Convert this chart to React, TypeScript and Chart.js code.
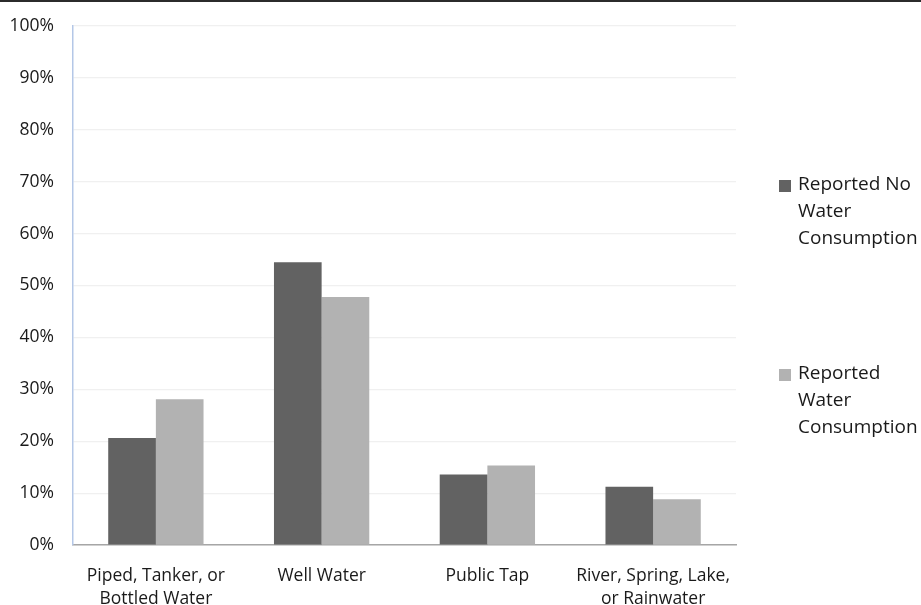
import React, { useEffect, useRef } from "react";
import { Chart, registerables } from "chart.js";

Chart.register(...registerables);

const categories: (string | string[])[] = [
  ["Piped, Tanker, or", "Bottled Water"],
  "Well Water",
  "Public Tap",
  ["River, Spring, Lake,", "or Rainwater"],
];
const noConsumption = [20.6, 54.5, 13.6, 11.2];
const consumption = [28.1, 47.8, 15.3, 8.8];
const seriesLabels = [
  ["Reported No", "Water", "Consumption"],
  ["Reported", "Water", "Consumption"],
];
const seriesColors = ["#626262", "#b2b2b2"];
const yTicks = [0, 10, 20, 30, 40, 50, 60, 70, 80, 90, 100];

const FONT = "'Open Sans', 'Noto Sans', sans-serif";

const legendPlugin = {
  id: "wrappedLegend",
  afterDraw(chart: any) {
    const ctx = chart.ctx;
    const area = chart.chartArea;
    const x0 = area.right + 43;
    const tops = [183, 372];
    ctx.save();
    ctx.font = `19px ${FONT}`;
    ctx.textBaseline = "middle";
    ctx.textAlign = "left";
    chart.data.datasets.forEach((ds: any, i: number) => {
      const lines: string[] = ds.legendLines;
      const y = tops[i];
      ctx.fillStyle = ds.backgroundColor;
      ctx.fillRect(x0, y - 5, 12, 12);
      ctx.fillStyle = "#1a1a1a";
      lines.forEach((ln, j) => {
        ctx.fillText(ln, x0 + 19, y + j * 27);
      });
    });
    ctx.restore();
  },
};

export default function App() {
  const ref = useRef<HTMLCanvasElement | null>(null);

  useEffect(() => {
    document.body.style.margin = "0";
    const canvas = ref.current;
    if (!canvas) return;
    const chart = new Chart(canvas, {
      type: "bar",
      data: {
        labels: categories,
        datasets: [
          {
            label: seriesLabels[0].join(" "),
            data: noConsumption,
            backgroundColor: seriesColors[0],
            borderWidth: 0,
            // @ts-ignore
            legendLines: seriesLabels[0],
          },
          {
            label: seriesLabels[1].join(" "),
            data: consumption,
            backgroundColor: seriesColors[1],
            borderWidth: 0,
            // @ts-ignore
            legendLines: seriesLabels[1],
          },
        ],
      },
      options: {
        animation: false,
        responsive: false,
        maintainAspectRatio: false,
        layout: { padding: { top: 24, right: 185, left: 10, bottom: 0 } },
        datasets: {
          bar: { barPercentage: 1, categoryPercentage: 0.575 },
        },
        plugins: {
          legend: { display: false },
          tooltip: { enabled: false },
        },
        scales: {
          x: {
            grid: { display: false, drawTicks: false },
            border: { display: true, color: "#a6a6a6", width: 1.5 },
            afterFit(scale: any) {
              scale.height = 67;
              scale.paddingLeft = 0;
              scale.paddingRight = 0;
            },
            ticks: {
              color: "#1a1a1a",
              font: { family: FONT, size: 17.5, lineHeight: 1.3 },
              padding: 20,
              maxRotation: 0,
              autoSkip: false,
            },
          },
          y: {
            min: 0,
            max: 100,
            afterBuildTicks(scale: any) {
              scale.ticks = yTicks.map((v) => ({ value: v }));
            },
            afterFit(scale: any) {
              scale.width = 63;
              scale.paddingTop = 0;
              scale.paddingBottom = 0;
            },
            grid: { color: "#f0f0f0", lineWidth: 1.2, drawTicks: false },
            border: { display: true, color: "#b4c7e7", width: 1.5 },
            ticks: {
              color: "#1a1a1a",
              font: { family: FONT, size: 17.5 },
              padding: 19,
              callback: (v: any) => `${v}%`,
            },
          },
        },
      },
      plugins: [legendPlugin],
    });
    return () => chart.destroy();
  }, []);

  return (
    <div style={{ position: "relative", width: 921, height: 605, overflow: "hidden", borderTop: "2px solid #2b2b2b", boxSizing: "border-box", background: "#fff" }}>
      <canvas ref={ref} width={921} height={610} style={{ display: "block" }} />
    </div>
  );
}
